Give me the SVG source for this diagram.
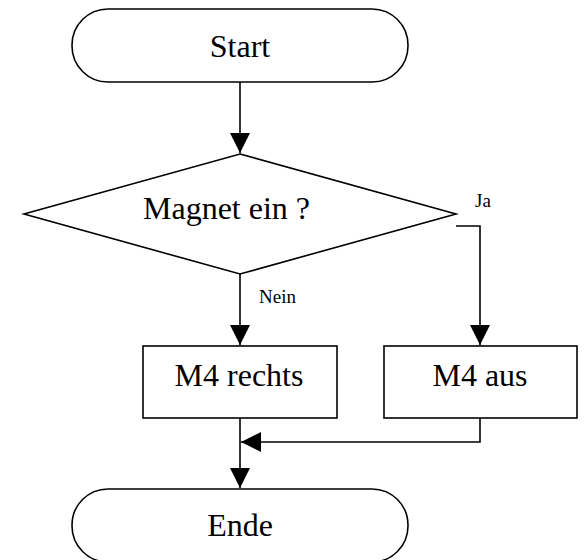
<svg xmlns="http://www.w3.org/2000/svg" width="584" height="560" viewBox="0 0 584 560">
<defs>
<style>
.s{fill:#fff;stroke:#000;stroke-width:1.6}
.c{fill:none;stroke:#000;stroke-width:1.6}
text{font-family:'Liberation Serif',Tinos,'Times New Roman',Times,'DejaVu Serif',serif;fill:#000}
.t{font-size:32px}
.l{font-size:19px}
</style>
<marker id="ah" markerUnits="userSpaceOnUse" markerWidth="20" markerHeight="20" refX="20" refY="10" orient="auto" viewBox="0 0 20 20">
<path d="M0,0 L20,10 L0,20 Z" fill="#000"/>
</marker>
</defs>
<g id="connectors">
<line class="c" x1="240" y1="82" x2="240" y2="153" marker-end="url(#ah)"/>
<line class="c" x1="240" y1="274" x2="240" y2="345" marker-end="url(#ah)"/>
<polyline class="c" points="456,226 480,226 480,345" marker-end="url(#ah)"/>
<line class="c" x1="240" y1="418" x2="240" y2="488" marker-end="url(#ah)"/>
<polyline class="c" points="480,418 480,442 241,442" marker-end="url(#ah)"/>
<text class="l" x="475" y="207" font-family="Liberation Serif, serif">Ja</text>
<text class="l" x="259" y="303" font-family="Liberation Serif, serif">Nein</text>
</g>
<g id="start">
<rect class="s" x="72" y="9" width="336" height="73" rx="36" ry="36"/>
<text class="t" x="240" y="57" text-anchor="middle" font-family="Liberation Serif, serif">Start</text>
</g>
<g id="decision">
<polygon class="s" points="240,154 456,214 240,274 24,214"/>
<text class="t" x="143" y="219" font-family="Liberation Serif, serif">Magnet ein ?</text>
</g>
<g id="m4rechts">
<rect class="s" x="143" y="346" width="194" height="72"/>
<text class="t" x="239" y="386" text-anchor="middle" font-family="Liberation Serif, serif">M4 rechts</text>
</g>
<g id="m4aus">
<rect class="s" x="384" y="346" width="193" height="72"/>
<text class="t" x="480" y="386" text-anchor="middle" font-family="Liberation Serif, serif">M4 aus</text>
</g>
<g id="ende">
<rect class="s" x="72" y="489" width="336" height="73" rx="36" ry="36"/>
<text class="t" x="240" y="536" text-anchor="middle" font-family="Liberation Serif, serif">Ende</text>
</g>
</svg>
